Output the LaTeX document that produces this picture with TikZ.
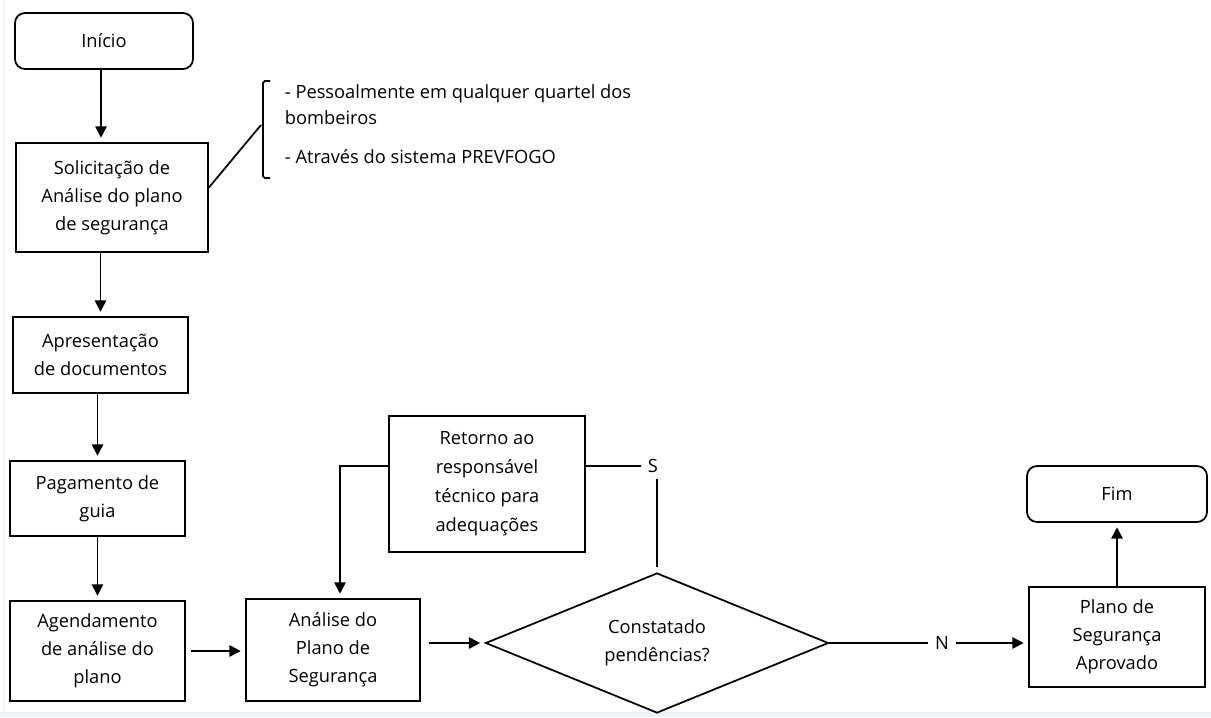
\documentclass[tikz,border=0pt]{standalone}
\usepackage{fontspec}
\setmainfont{Open Sans}
\usetikzlibrary{shapes.geometric,arrows.meta}
\definecolor{faixa}{HTML}{EFF3F9}

\begin{document}
\begin{tikzpicture}[
  line width=1pt,
  every node/.style={font=\fontsize{10.4}{16}\selectfont},
  caixa/.style={draw, align=center, inner sep=0pt},
  terminal/.style={caixa, rounded corners=0.2cm},
  decisao/.style={draw, diamond, aspect=2.45, inner sep=0pt, align=center},
  seta/.style={-{Triangle[length=6.5pt,width=6.5pt]}, shorten >=2.5pt}
]
\useasboundingbox (0,0) rectangle (24.22,-14.34);
\fill[faixa] (0,-14.24) rectangle (24.22,-14.34);
\draw[faixa, line width=0.6pt] (0.08,0) -- (0.08,-14.24);

% coluna da esquerda
\node[terminal, minimum width=3.56cm, minimum height=1.12cm] (inicio) at (2.08,-0.82) {Início};
\node[caixa, minimum width=3.84cm, minimum height=2.18cm] (solic) at (2.24,-3.95) {Solicitação de\\Análise do plano\\de segurança};
\node[caixa, minimum width=3.5cm, minimum height=1.52cm] (apres) at (2.01,-7.10) {Apresentação\\de documentos};
\node[caixa, minimum width=3.5cm, minimum height=1.5cm] (pagam) at (1.95,-9.97) {Pagamento de\\guia};
\node[caixa, minimum width=3.5cm, minimum height=2.0cm] (agend) at (1.95,-13.02) {Agendamento\\de análise do\\plano};

% observacoes
\coordinate (chave) at (5.22,-2.5);
\draw[rounded corners=1pt] (5.4,-1.62) -- (5.26,-1.62) -- (5.26,-3.56) -- (5.4,-3.56);
\node[anchor=north west, align=left, inner sep=0pt, font=\fontsize{10.4}{14.7}\selectfont] (notas) at (5.68,-1.67)
  {- Pessoalmente em qualquer quartel dos\\bombeiros\\[8pt]- Através do sistema PREVFOGO};

% linha de baixo
\node[caixa, minimum width=3.48cm, minimum height=2.04cm] (analise) at (6.66,-13.0) {Análise do\\Plano de\\Segurança};
\node[caixa, minimum width=3.92cm, minimum height=2.72cm, font=\fontsize{10.4}{16.5}\selectfont] (retorno) at (9.74,-9.68) {Retorno ao\\responsável\\técnico para\\adequações};
\node[decisao, minimum width=6.86cm, minimum height=2.8cm] (dec) at (13.14,-12.86) {Constatado\\pendências?};
\node (sLbl) at (13.06,-9.32) {S};
\node (nLbl) at (18.84,-12.86) {N};
\node[caixa, minimum width=3.52cm, minimum height=2.0cm] (plano) at (22.34,-12.74) {Plano de\\Segurança\\Aprovado};
\node[terminal, minimum width=3.6cm, minimum height=1.12cm] (fim) at (22.34,-9.88) {Fim};

% ligacoes
\draw[seta] ([xshift=-0.06cm]inicio.south) -- ([xshift=-0.06cm]inicio.south |- solic.north);
\draw[seta] (solic.south -| apres.north) -- (apres.north);
\draw[seta] (apres.south -| pagam.north) -- (pagam.north);
\draw[seta] (pagam.south) -- (agend.north);
\draw ([yshift=0.2cm]solic.east) -- (chave);
\draw[seta, shorten <=3pt] (agend.east) -- (agend.east -| analise.west);
\draw[seta, shorten <=4.5pt] (analise.east |- dec.west) -- (dec.west);
\draw[seta] ([yshift=0.36cm]retorno.west) -| ([xshift=0.14cm]analise.north);
\draw[shorten <=3pt] (dec.north) -- (dec.north |- sLbl.south);
\draw (sLbl.west) -- (sLbl.west -| retorno.east);
\draw (dec.east) -- (nLbl.west);
\draw[seta] (nLbl.east) -- (nLbl.east -| plano.west);
\draw[seta] (plano.north) -- (fim.south);
\end{tikzpicture}
\end{document}
